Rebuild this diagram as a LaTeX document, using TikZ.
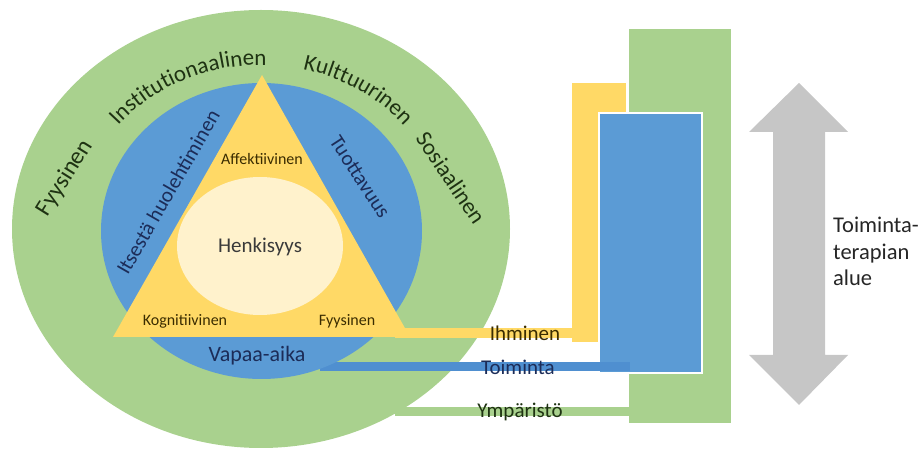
\documentclass[tikz,border=0pt]{standalone}
\usepackage{fontspec}
\setmainfont{Carlito}
\usetikzlibrary{decorations.text,calc}
\definecolor{ringgreen}{HTML}{A9D18E}
\definecolor{ringblue}{HTML}{5B9BD5}
\definecolor{bandblue}{HTML}{4F8FD0}
\definecolor{triyellow}{HTML}{FFD966}
\definecolor{innerlight}{HTML}{FFF2CC}
\definecolor{arrowgrey}{HTML}{C6C6C6}
\definecolor{dgreen}{HTML}{1E3212}
\definecolor{dnavy}{HTML}{1C2C58}
\definecolor{dbrown}{HTML}{3A2C00}
\definecolor{dgrey}{HTML}{3A3A3A}
\newcommand{\outerfont}{\fontsize{23}{27}\selectfont\color{dgreen}}
\tikzset{
  outertext/.style={font=\fontsize{23}{27}\selectfont, text=dgreen, inner sep=0pt},
  bluetext/.style={font=\fontsize{21}{25}\selectfont, text=dnavy, inner sep=0pt},
  trilabel/.style={font=\fontsize{16}{19}\selectfont, text=dbrown, inner sep=0pt},
  henklabel/.style={font=\fontsize{21}{25}\selectfont, text=dgrey, inner sep=0pt},
  bandlabel/.style={font=\fontsize{21}{24}\selectfont, inner sep=0pt},
  sidelabel/.style={font=\fontsize{22.5}{26}\selectfont, text=black!85, inner sep=0pt, anchor=base west},
  ringword/.style={decorate, decoration={text along path, text align=center, text={#1}}}
}
\begin{document}
\begin{tikzpicture}[x=1pt,y=-1pt]
\useasboundingbox (0,0) rectangle (922,454);
\coordinate (C) at (261,229);
\coordinate (CB) at (261.5,231);
% outer green ring
\fill[ringgreen] (C) ellipse [x radius=249pt, y radius=219pt];
% right-hand bars
\fill[ringgreen] (629,29) rectangle (731,423);
\fill[triyellow] (572,83) rectangle (626,342);
\fill[ringblue, draw=white, line width=2pt] (599,113) rectangle (702,373);
% connecting bands
\fill[triyellow] (395,328) rectangle (574,338);
\fill[bandblue] (320,362) rectangle (630,371);
\fill[ringgreen] (395,407) rectangle (631,416);
% blue ring, triangle, inner ellipse
\fill[ringblue] (CB) ellipse [x radius=160.5pt, y radius=148pt];
\fill[triyellow] (262,75) -- (113,337) -- (410,337) -- cycle;
\fill[innerlight] (260,246) ellipse [x radius=83pt, y radius=69pt];
% grey double arrow
\fill[arrowgrey] (799,83) -- (848,132) -- (825,132) -- (825,355) -- (848,355)
  -- (799,405) -- (749,355) -- (773,355) -- (773,132) -- (749,132) -- cycle;
% outer ring words
\node[outertext, font=\fontsize{24}{28}\selectfont, rotate=58] (fyys) at (65,178) {Fyysinen};
\path[ringword={|\outerfont|Institutionaalinen}]
  ($(C)+(176:184pt and 164pt)$) arc[start angle=176, end angle=56, x radius=184pt, y radius=164pt];
\path[ringword={|\outerfont|Kulttuurinen}]
  ($(C)+(116:184pt and 164pt)$) arc[start angle=116, end angle=-4, x radius=184pt, y radius=164pt];
\node[outertext, rotate=-56] (sos) at (451,178) {Sosiaalinen};
% blue ring words
\node[bluetext, rotate=60] (itse) at (168,192) {Itsestä huolehtiminen};
\node[bluetext, rotate=-57] (tuot) at (360,177) {Tuottavuus};
\node[bluetext, font=\fontsize{22}{26}\selectfont] (vapaa) at (257,356) {Vapaa-aika};
% triangle words
\node[henklabel] (henk) at (260,247) {Henkisyys};
\node[trilabel] (aff) at (262,159) {Affektiivinen};
\node[trilabel] (kog) at (185,321) {Kognitiivinen};
\node[trilabel] (fyy) at (347,321) {Fyysinen};
% band labels
\node[bandlabel, text=dbrown] (ihm) at (525,333) {Ihminen};
\node[bandlabel, text=dnavy] (toim) at (518,367) {Toiminta};
\node[bandlabel, text=dgreen] (ymp) at (520,412) {Ympäristö};
% side text
\node[sidelabel] (alue1) at (833,233) {Toiminta-};
\node[sidelabel] (alue2) at (833,259.5) {terapian};
\node[sidelabel] (alue3) at (833,286) {alue};
\end{tikzpicture}
\end{document}
